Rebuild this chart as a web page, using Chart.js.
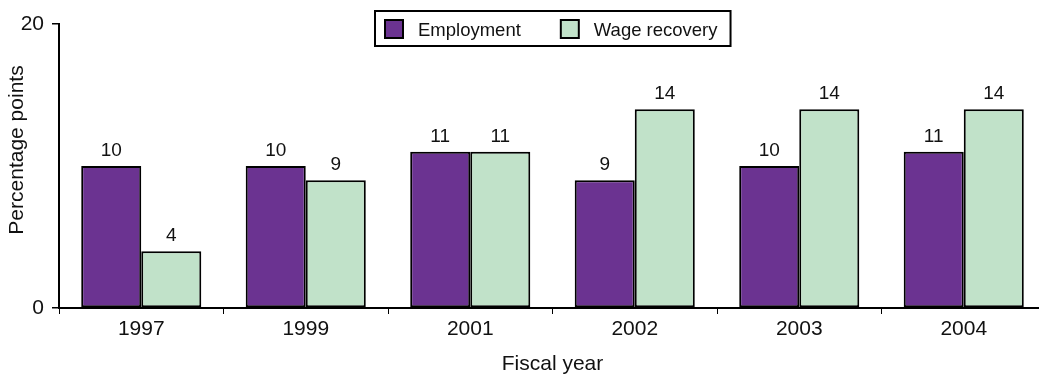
<!DOCTYPE html>
<html>
<head>
<meta charset="utf-8">
<script src="https://cdn.jsdelivr.net/npm/chart.js@4/dist/chart.umd.min.js"></script>
<style>
  html, body { margin: 0; padding: 0; background: #fff; overflow: hidden; }
  #wrap { position: relative; width: 1050px; height: 377px; }
  canvas { display: block; }
</style>
</head>
<body>
<div id="wrap"><canvas id="chart" width="1050" height="377"></canvas></div>
<script>
// Fiscal years shown along the x axis
const fiscalYears = ['1997', '1999', '2001', '2002', '2003', '2004'];
// Percentage points by measure
const employment = [10, 10, 11, 9, 10, 11];
const wageRecovery = [4, 9, 11, 14, 14, 14];
// Value axis ticks
const yTicks = [0, 20];
const seriesNames = ['Employment', 'Wage recovery'];
const xTitle = 'Fiscal year';
const yTitle = 'Percentage points';

const FONT = 'Liberation Sans, Arial, Helvetica, sans-serif';
const PURPLE = '#6b3391';
const GREEN = '#c1e2c9';

// Value printed above each bar
const valueLabels = {
  id: 'valueLabels',
  afterDatasetsDraw(chart) {
    const ctx = chart.ctx;
    ctx.save();
    ctx.fillStyle = '#111';
    ctx.font = '19px ' + FONT;
    ctx.textAlign = 'center';
    ctx.textBaseline = 'alphabetic';
    chart.data.datasets.forEach((ds, di) => {
      chart.getDatasetMeta(di).data.forEach((bar, i) => {
        ctx.fillText(String(ds.data[i]), bar.x, bar.y - 10);
      });
    });
    ctx.restore();
  }
};

// Boxed legend overlapping the top of the plot, plus the rotated y title
const boxedLegend = {
  id: 'boxedLegend',
  afterDraw(chart) {
    const ctx = chart.ctx;
    const area = chart.chartArea;
    ctx.save();
    ctx.font = '18.5px ' + FONT;
    const padL = 10, padR = 13, sw = 18, gap = 15, itemGap = 40;
    const widths = chart.data.datasets.map(ds => ctx.measureText(ds.label).width);
    let total = padL + padR;
    widths.forEach((w, i) => { total += sw + gap + w + (i < widths.length - 1 ? itemGap : 0); });
    const cx = (area.left + area.right) / 2;
    const left = Math.round(cx - total / 2);
    const top = 11, h = 35;
    ctx.lineWidth = 2;
    ctx.strokeStyle = '#000';
    ctx.fillStyle = '#fff';
    ctx.fillRect(left, top, total, h);
    ctx.strokeRect(left, top, total, h);
    let x = left + padL;
    chart.data.datasets.forEach((ds, i) => {
      ctx.fillStyle = ds.backgroundColor;
      ctx.fillRect(x, top + 9, sw, sw);
      ctx.strokeRect(x, top + 9, sw, sw);
      x += sw + gap;
      ctx.fillStyle = '#111';
      ctx.textAlign = 'left';
      ctx.textBaseline = 'alphabetic';
      ctx.fillText(ds.label, x, top + 25);
      x += widths[i] + itemGap;
    });

    // y axis title
    ctx.translate(17, 150);
    ctx.rotate(-Math.PI / 2);
    ctx.font = '21px ' + FONT;
    ctx.fillStyle = '#111';
    ctx.textAlign = 'center';
    ctx.textBaseline = 'middle';
    ctx.fillText(yTitle, 0, 0);
    ctx.restore();
  }
};

new Chart(document.getElementById('chart'), {
  type: 'bar',
  data: {
    labels: fiscalYears,
    datasets: [
      { label: seriesNames[0], data: employment, backgroundColor: PURPLE, borderColor: '#000', borderWidth: 2, borderSkipped: false },
      { label: seriesNames[1], data: wageRecovery, backgroundColor: GREEN, borderColor: '#000', borderWidth: 2, borderSkipped: false }
    ]
  },
  options: {
    responsive: false,
    animation: false,
    devicePixelRatio: 1,
    layout: { padding: { top: 24, right: 4, bottom: 0, left: 0 } },
    datasets: { bar: { categoryPercentage: 0.73, barPercentage: 1.0 } },
    plugins: {
      legend: { display: false },
      tooltip: { enabled: false }
    },
    scales: {
      x: {
        offset: true,
        grid: { offset: true, drawOnChartArea: false, drawTicks: true, tickLength: 6, color: '#000', lineWidth: 1 },
        border: { display: true, color: '#000', width: 2 },
        ticks: { color: '#111', font: { family: FONT, size: 21 }, padding: 3, maxRotation: 0 },
        title: { display: true, text: xTitle, color: '#111', font: { family: FONT, size: 21 }, padding: { top: 0, bottom: 0 } },
        afterFit(scale) { scale.height = 69; }
      },
      y: {
        min: 0,
        max: 20,
        afterBuildTicks(scale) { scale.ticks = yTicks.map(v => ({ value: v })); },
        grid: { drawOnChartArea: false, drawTicks: true, tickLength: 7, color: '#000', lineWidth: 1.5 },
        border: { display: true, color: '#000', width: 2 },
        ticks: { color: '#111', font: { family: FONT, size: 21 }, padding: 8 },
        afterFit(scale) { scale.width = 59; }
      }
    }
  },
  plugins: [valueLabels, boxedLegend]
});
</script>
</body>
</html>
